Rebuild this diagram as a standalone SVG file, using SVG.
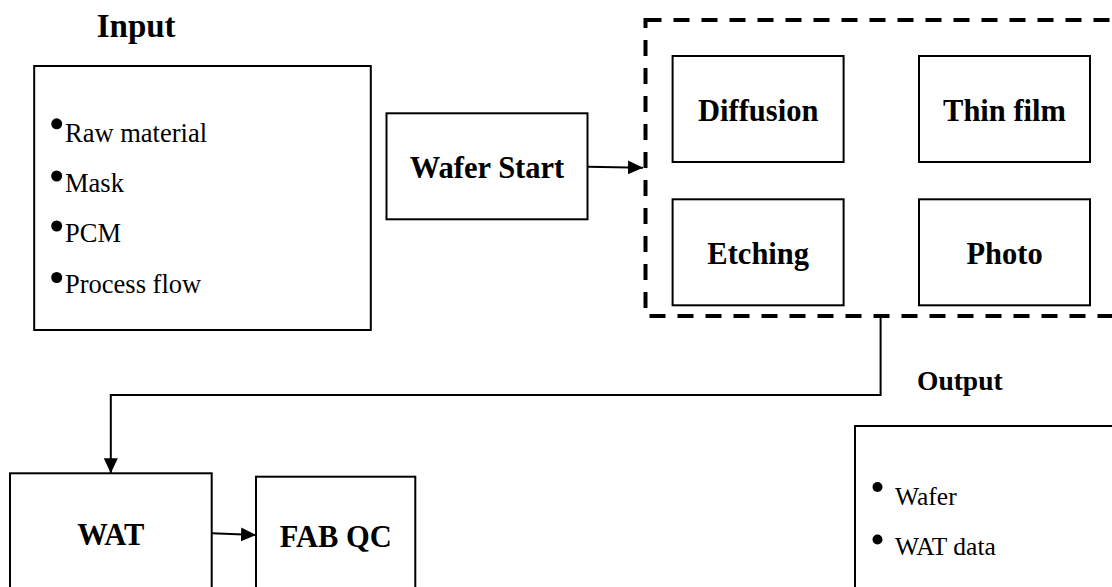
<svg xmlns="http://www.w3.org/2000/svg" width="1112" height="587" viewBox="0 0 1112 587">
<style>
.box{fill:#fff;stroke:#000;stroke-width:2}
.lbl{font-family:"Liberation Serif","Times New Roman",serif;font-weight:bold;font-size:30.5px;fill:#000;text-anchor:middle}
.ttl{font-family:"Liberation Serif","Times New Roman",serif;font-weight:bold;fill:#000}
.item{font-family:"Liberation Serif","Times New Roman",serif;font-size:26.5px;fill:#000}
.out{font-family:"Liberation Serif","Times New Roman",serif;font-size:25.5px;fill:#000}
.conn{fill:none;stroke:#000;stroke-width:2}
.dash{fill:none;stroke:#000;stroke-width:4;stroke-dasharray:16 12}
</style>
<defs>
<marker id="arr" markerWidth="15" markerHeight="14" refX="15" refY="7" orient="auto" markerUnits="userSpaceOnUse">
<path d="M0,0 L15,7 L0,14 Z" fill="#000"/>
</marker>
</defs>
<rect width="1112" height="587" fill="#fff"/>

<text class="ttl" x="96.7" y="36.7" font-size="33">Input</text>
<text class="ttl" x="917" y="390" font-size="27.5">Output</text>

<g id="input">
<rect class="box" x="34.2" y="66" width="336.6" height="264"/>
<circle cx="56.7" cy="123.8" r="5.5"/>
<circle cx="56.7" cy="176" r="5.5"/>
<circle cx="56.7" cy="226" r="5.5"/>
<circle cx="56.7" cy="277.5" r="5.5"/>
<text class="item" x="65" y="141.7">Raw material</text>
<text class="item" x="65" y="192.3">Mask</text>
<text class="item" x="65" y="242.3">PCM</text>
<text class="item" x="65" y="293.3">Process flow</text>
</g>

<g id="wafer-start">
<rect class="box" x="386.5" y="113.3" width="201" height="106"/>
<text class="lbl" x="487" y="178.3">Wafer Start</text>
</g>

<g id="process-area">
<rect class="dash" x="645.5" y="20" width="520" height="296"/>
</g>

<g id="diffusion">
<rect class="box" x="672.6" y="56" width="171" height="106"/>
<text class="lbl" x="758.2" y="120.7">Diffusion</text>
</g>
<g id="thin-film">
<rect class="box" x="919" y="56" width="171" height="106"/>
<text class="lbl" x="1004.5" y="120.7">Thin film</text>
</g>
<g id="etching">
<rect class="box" x="672.6" y="199.3" width="171" height="106"/>
<text class="lbl" x="758.2" y="264.3">Etching</text>
</g>
<g id="photo">
<rect class="box" x="919" y="199.3" width="171" height="106"/>
<text class="lbl" x="1004.5" y="264.3">Photo</text>
</g>

<g id="wat">
<rect class="box" x="10" y="473.3" width="201.7" height="130"/>
<text class="lbl" x="110.8" y="545" font-size="29">WAT</text>
</g>
<g id="fab-qc">
<rect class="box" x="256" y="476.7" width="159.3" height="130"/>
<text class="lbl" x="335.7" y="547" font-size="29">FAB QC</text>
</g>

<g id="output">
<rect class="box" x="855" y="426" width="280" height="180"/>
<circle cx="877.5" cy="487" r="5"/>
<circle cx="877.5" cy="539.5" r="5"/>
<text class="out" x="895" y="505">Wafer</text>
<text class="out" x="895" y="555">WAT data</text>
</g>

<g id="connectors">
<line class="conn" x1="587.5" y1="166.7" x2="643" y2="167.7" marker-end="url(#arr)"/>
<polyline class="conn" points="880.6,316 880.6,395 110.8,395 110.8,473.3" marker-end="url(#arr)"/>
<line class="conn" x1="211.7" y1="533.3" x2="256" y2="535" marker-end="url(#arr)"/>
</g>
</svg>
